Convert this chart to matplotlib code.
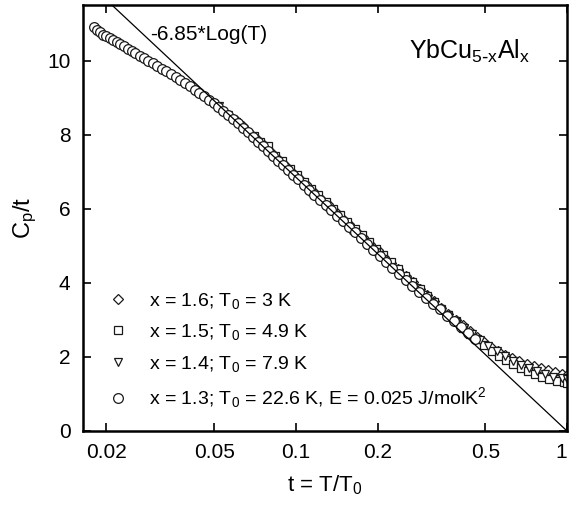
import numpy as np
import matplotlib
matplotlib.use("Agg")
import matplotlib.pyplot as plt

plt.rcParams['font.family'] = ['Liberation Sans', 'DejaVu Sans']
plt.rcParams['mathtext.default'] = 'regular'

# x = 1.3; T0 = 22.6 K  (circles)
t_13 = [0.0180, 0.0185, 0.0190, 0.0195, 0.0200, 0.0206, 0.0212, 0.0218, 0.0225, 0.0232,
        0.0240, 0.0248, 0.0256, 0.0265, 0.0275, 0.0285, 0.0296, 0.0308, 0.0320, 0.0333,
        0.0346, 0.0360, 0.0375, 0.0390, 0.0406, 0.0423, 0.0440, 0.0458, 0.0477, 0.0497,
        0.0518, 0.0540, 0.0563, 0.0587, 0.0612, 0.0638, 0.0665, 0.0694, 0.0724, 0.0755,
        0.0788, 0.0822, 0.0858, 0.0895, 0.0934, 0.0975, 0.102, 0.107, 0.112, 0.117,
        0.123, 0.129, 0.135, 0.142, 0.149, 0.157, 0.165, 0.174, 0.183, 0.193,
        0.204, 0.215, 0.227, 0.240, 0.254, 0.269, 0.285, 0.302, 0.320, 0.340,
        0.361, 0.383, 0.407, 0.432, 0.459]
c_13 = [10.90, 10.82, 10.78, 10.70, 10.66, 10.60, 10.55, 10.50, 10.45, 10.38,
        10.32, 10.26, 10.20, 10.13, 10.06, 9.99, 9.93, 9.86, 9.78, 9.71,
        9.63, 9.55, 9.47, 9.39, 9.30, 9.21, 9.13, 9.03, 8.94, 8.85,
        8.75, 8.65, 8.54, 8.43, 8.31, 8.19, 8.06, 7.94, 7.81, 7.69,
        7.56, 7.43, 7.30, 7.18, 7.05, 6.92, 6.79, 6.65, 6.51, 6.38,
        6.24, 6.09, 5.96, 5.81, 5.66, 5.51, 5.36, 5.20, 5.05, 4.89,
        4.73, 4.57, 4.41, 4.25, 4.08, 3.92, 3.76, 3.60, 3.44, 3.28,
        3.11, 2.96, 2.80, 2.64, 2.47]

# x = 1.6; T0 = 3 K  (diamonds)
t_16 = [0.060, 0.064, 0.068, 0.072, 0.076, 0.081, 0.086, 0.091, 0.097, 0.103,
        0.109, 0.116, 0.123, 0.131, 0.139, 0.148, 0.157, 0.167, 0.177, 0.188,
        0.200, 0.212, 0.225, 0.239, 0.254, 0.270, 0.287, 0.305, 0.324, 0.344,
        0.365, 0.388, 0.412, 0.438, 0.465, 0.494, 0.525, 0.557, 0.592, 0.629,
        0.668, 0.709, 0.753, 0.800, 0.850, 0.903, 0.959, 1.0]
c_16 = [8.40, 8.22, 8.05, 7.88, 7.72, 7.53, 7.35, 7.19, 7.00, 6.82,
        6.66, 6.48, 6.30, 6.12, 5.95, 5.76, 5.59, 5.41, 5.24, 5.06,
        4.88, 4.71, 4.54, 4.36, 4.19, 4.01, 3.84, 3.67, 3.50, 3.33,
        3.17, 3.00, 2.85, 2.69, 2.54, 2.40, 2.27, 2.15, 2.05, 1.96,
        1.88, 1.82, 1.76, 1.70, 1.65, 1.60, 1.55, 1.52]

# x = 1.5; T0 = 4.9 K  (squares)
t_15 = [0.070, 0.074, 0.079, 0.084, 0.089, 0.095, 0.101, 0.107, 0.114, 0.121,
        0.129, 0.137, 0.146, 0.155, 0.165, 0.175, 0.186, 0.198, 0.210, 0.224,
        0.238, 0.253, 0.269, 0.286, 0.304, 0.323, 0.343, 0.365, 0.388, 0.413,
        0.439, 0.467, 0.496, 0.527, 0.561, 0.596, 0.634, 0.674, 0.716, 0.761,
        0.809, 0.860, 0.915, 0.972, 1.0]
c_15 = [7.95, 7.80, 7.70, 7.42, 7.28, 7.06, 6.90, 6.72, 6.53, 6.36,
        6.18, 6.00, 5.82, 5.63, 5.46, 5.28, 5.10, 4.92, 4.74, 4.55,
        4.37, 4.19, 4.01, 3.83, 3.65, 3.48, 3.30, 3.13, 2.96, 2.79,
        2.63, 2.47, 2.32, 2.17, 2.03, 1.91, 1.80, 1.70, 1.61, 1.53,
        1.46, 1.40, 1.35, 1.31, 1.29]

# x = 1.4; T0 = 7.9 K  (triangles)
t_14 = [0.052, 0.056, 0.060, 0.064, 0.069, 0.074, 0.079, 0.085, 0.091, 0.098,
        0.105, 0.112, 0.120, 0.129, 0.138, 0.148, 0.159, 0.170, 0.182, 0.195,
        0.209, 0.224, 0.240, 0.257, 0.275, 0.295, 0.316, 0.339, 0.363, 0.389,
        0.417, 0.447, 0.479, 0.513, 0.550, 0.589, 0.631, 0.676, 0.724, 0.776,
        0.832, 0.891, 0.955, 1.0]
c_14 = [8.76, 8.54, 8.33, 8.14, 7.91, 7.70, 7.51, 7.28, 7.08, 6.86,
        6.65, 6.46, 6.26, 6.04, 5.84, 5.63, 5.42, 5.23, 5.03, 4.83,
        4.63, 4.43, 4.24, 4.05, 3.86, 3.67, 3.48, 3.30, 3.12, 2.95,
        2.78, 2.61, 2.45, 2.30, 2.15, 2.02, 1.90, 1.79, 1.69, 1.61,
        1.53, 1.47, 1.42, 1.39]

fit_coef = -6.85
x_ticks = [0.02, 0.05, 0.1, 0.2, 0.5, 1]
x_ticklabels = ['0.02', '0.05', '0.1', '0.2', '0.5', '1']
y_ticks = [0, 2, 4, 6, 8, 10]

fig = plt.figure(figsize=(5.71, 5.08), dpi=100)
ax = fig.add_axes([0.1454, 0.1516, 0.8476, 0.8386])

ec = '#1a1a1a'
h16, = ax.plot(t_16, c_16, 'D', ms=5, mfc='white', mec=ec, mew=0.9, ls='none')
h15, = ax.plot(t_15, c_15, 's', ms=5.5, mfc='white', mec=ec, mew=0.9, ls='none')
h14, = ax.plot(t_14, c_14, 'v', ms=6, mfc='white', mec=ec, mew=0.9, ls='none')
h13, = ax.plot(t_13, c_13, 'o', ms=7, mfc='white', mec=ec, mew=0.9, ls='none')

# log fit line
t_line = np.array([0.01, 1.0])
ax.plot(t_line, fit_coef * np.log10(t_line), color='black', lw=0.9)

ax.set_xscale('log')
ax.set_xlim(0.0164, 1.0)
ax.set_ylim(0, 11.5)
ax.set_xticks(x_ticks)
ax.set_xticklabels(x_ticklabels)
ax.xaxis.set_minor_locator(matplotlib.ticker.NullLocator())
ax.set_yticks(y_ticks)
ax.tick_params(which='both', direction='in', top=True, right=True,
               length=6, width=1.2, labelsize=15, pad=9)
for s in ax.spines.values():
    s.set_linewidth(1.8)
# keep the last tick label inside the canvas
ax.get_xticklabels()[-1].set_horizontalalignment('right')

ax.set_xlabel(r't = T/T$_0$', fontsize=16, labelpad=8)
ax.set_ylabel(r'C$_p$/t', fontsize=17, labelpad=6)

ax.text(0.029, 10.55, '-6.85*Log(T)', fontsize=15)
ax.text(0.924, 0.873, r'YbCu$_{5\text{-}x}$Al$_x$', fontsize=18,
        transform=ax.transAxes, ha='right')

handles = [h16, h15, h14, h13]
labels = [r'x = 1.6; T$_0$ = 3 K',
          r'x = 1.5; T$_0$ = 4.9 K',
          r'x = 1.4; T$_0$ = 7.9 K',
          r'x = 1.3; T$_0$ = 22.6 K, E = 0.025 J/molK$^2$']
leg = ax.legend(handles, labels, loc='lower left', bbox_to_anchor=(0.032, 0.03),
                frameon=False, fontsize=14, labelspacing=0.6,
                handletextpad=1.0, handlelength=1.2, borderaxespad=0)

fig.savefig('out.png', dpi=100)
